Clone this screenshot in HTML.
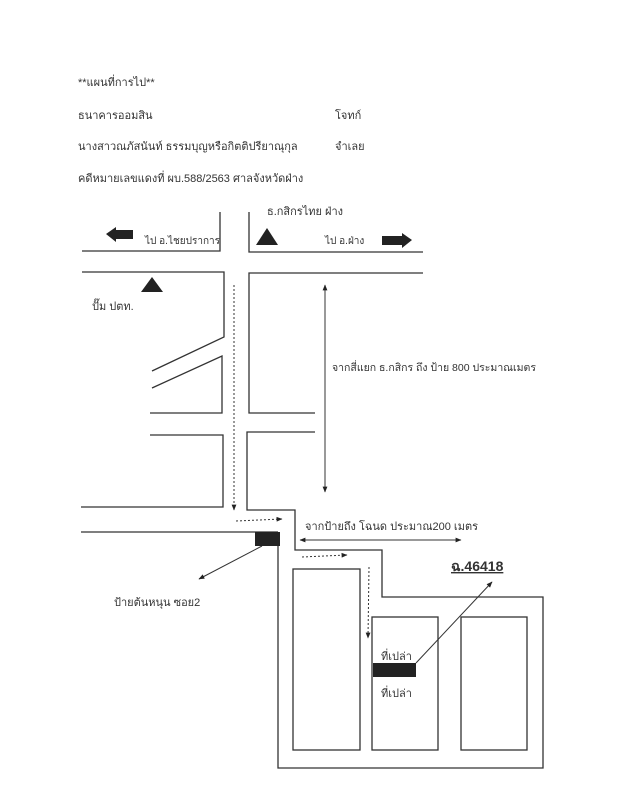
<!DOCTYPE html>
<html><head><meta charset="utf-8"><style>
html,body{margin:0;padding:0;background:#fff;}
svg{display:block}
text{font-family:"Liberation Sans","Noto Sans CJK SC",sans-serif;font-size:11px;fill:#333}
</style></head><body>
<svg width="624" height="800" viewBox="0 0 624 800" xmlns="http://www.w3.org/2000/svg">
<defs>
<marker id="a" viewBox="0 0 10 10" refX="9" refY="5" markerWidth="6" markerHeight="6" orient="auto-start-reverse"><path d="M0,1 L10,5 L0,9 z" fill="#222"/></marker>
</defs>
<text x="78" y="86">**แผนที่การไป**</text>
<text x="78" y="119">ธนาคารออมสิน</text>
<text x="335" y="119">โจทก์</text>
<text x="78" y="150">นางสาวณภัสนันท์  ธรรมบุญหรือกิตติปรียาณุกุล</text>
<text x="335" y="150">จำเลย</text>
<text x="78" y="182">คดีหมายเลขแดงที่ ผบ.588/2563  ศาลจังหวัดฝ่าง</text>
<text x="267" y="215">ธ.กสิกรไทย ฝ่าง</text>
<text x="145" y="244" style="font-size:10px">ไป อ.ไชยปราการ</text>
<text x="325" y="244" style="font-size:10px">ไป อ.ฝ่าง</text>
<text x="92" y="310">ปั๊ม ปตท.</text>
<text x="332" y="371" style="font-size:10.5px">จากสี่แยก ธ.กสิกร ถึง ป้าย 800 ประมาณเมตร</text>
<text x="305" y="530">จากป้ายถึง โฉนด ประมาณ200 เมตร</text>
<text x="114" y="606">ป้ายต้นหนุน ซอย2</text>
<text x="451" y="571" style="font-size:14px;font-weight:bold;text-decoration:underline">ฉ.46418</text>
<text x="381" y="660">ที่เปล่า</text>
<text x="381" y="697">ที่เปล่า</text>
<g stroke="#333" stroke-width="1.3" fill="none">
<polyline points="82,251 220,251 220,212"/>
<polyline points="249,212 249,252 423,252"/>
<polyline points="82,272 224,272 224,337 152,371"/>
<polyline points="152,388 222,356 222,413 150,413"/>
<polyline points="150,435 223,435 223,507 81,507"/>
<polyline points="315,413 249,413 249,273 423,273"/>
<polyline points="315,432 247,432 247,510 295,510 295,550 382,550 382,597 543,597 543,768 278,768 278,545"/>
<line x1="81" y1="532" x2="278" y2="532"/>
<rect x="293" y="569" width="67" height="181"/>
<rect x="372" y="617" width="66" height="133"/>
<rect x="461" y="617" width="66" height="133"/>
</g>
<g stroke="#333" stroke-width="1" fill="none">
<line x1="325" y1="285" x2="325" y2="492" marker-start="url(#a)" marker-end="url(#a)"/>
<line x1="300" y1="540" x2="461" y2="540" marker-start="url(#a)" marker-end="url(#a)"/>
<line x1="262" y1="546" x2="199" y2="579" marker-end="url(#a)"/>
<line x1="416" y1="663" x2="492" y2="582" marker-end="url(#a)"/>
</g>
<g stroke="#333" stroke-width="1" fill="none" stroke-dasharray="2,2">
<line x1="234" y1="285" x2="234" y2="510" marker-end="url(#a)"/>
<line x1="236" y1="521" x2="282" y2="519" marker-end="url(#a)"/>
<line x1="302" y1="557" x2="347" y2="555" marker-end="url(#a)"/>
<line x1="369" y1="567" x2="368" y2="638" marker-end="url(#a)"/>
</g>
<rect x="255" y="532" width="25" height="14" fill="#222"/>
<rect x="373" y="663" width="43" height="14" fill="#222"/>
<polygon points="256,245 267,228 278,245" fill="#222"/>
<polygon points="141,292 152,277 163,292" fill="#222"/>
<polygon points="106,234 116,227 116,230 133,230 133,239 116,239 116,242" fill="#222"/>
<polygon points="412,240 402,233 402,236 382,236 382,245 402,245 402,248" fill="#222"/>
</svg>
</body></html>
